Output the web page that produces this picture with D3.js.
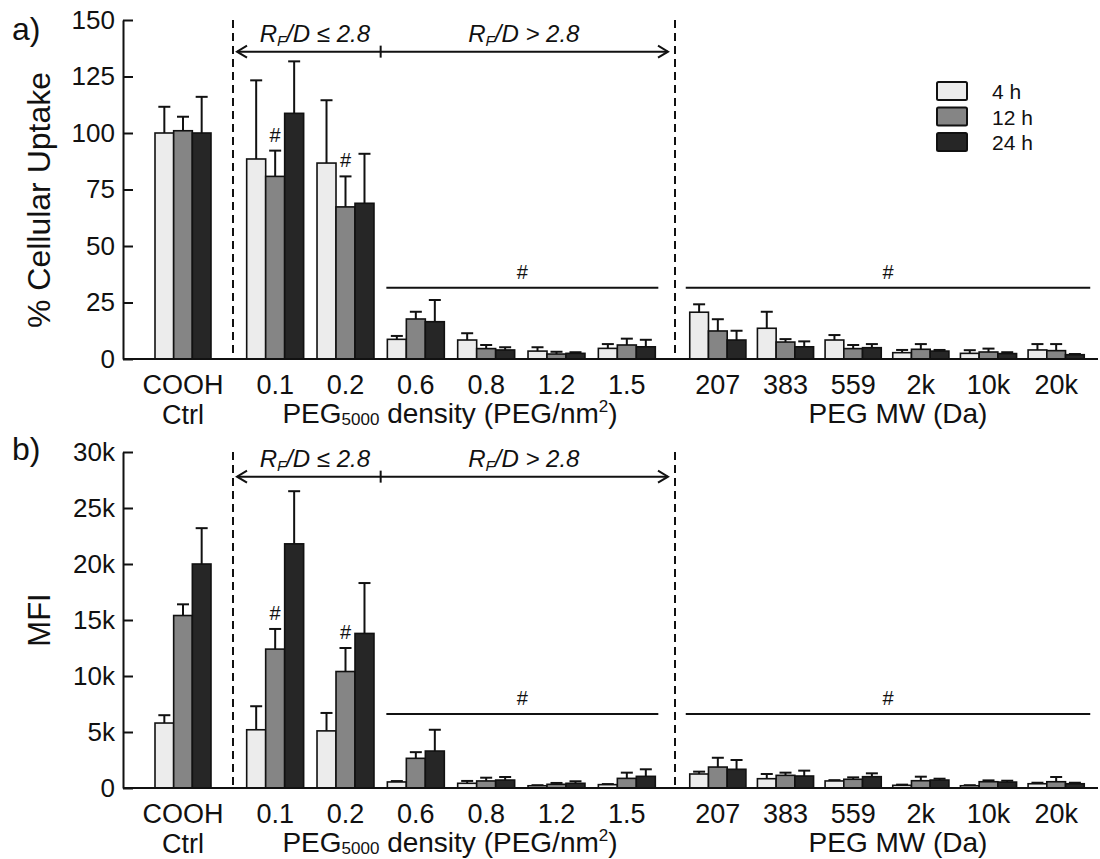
<!DOCTYPE html>
<html lang="en">
<head>
<meta charset="UTF-8">
<title>PEG uptake</title>
<script src="https://d3js.org/d3.v7.min.js"></script>
<style>
    body { margin: 0; background: #fff; }
    svg { display: block; font-family: "Liberation Sans", Arial, sans-serif; }
    .tick text { font-size: 26px; fill: #111; }
    .cat { font-size: 27px; fill: #111; text-anchor: middle; }
    .title { font-size: 28px; fill: #111; text-anchor: middle; }
    .note { font-size: 24px; font-style: italic; fill: #111; text-anchor: middle; }
    .hash { font-size: 20px; fill: #111; text-anchor: middle; }
</style>
</head>
<body>
<svg width="1100" height="859"></svg>
<script>
// categories
const ctrlCats = ["COOH"];
const densityCats = ["0.1", "0.2", "0.6", "0.8", "1.2", "1.5"];
const mwCats = ["207", "383", "559", "2k", "10k", "20k"];
const allCats = ctrlCats.concat(densityCats, mwCats);
const series = ["4 h", "12 h", "24 h"];
const colors = ["#ececec", "#858585", "#262626"];

// a) % cellular uptake (mean, SD)
const uptake4 = [100, 88.5, 86.7, 8.7, 8.4, 3.5, 4.7, 20.7, 13.6, 8.4, 2.8, 2.5, 4.0];
const uptake4Err = [11.6, 34.8, 27.8, 1.5, 3.0, 1.7, 1.9, 3.5, 7.3, 2.2, 1.2, 1.4, 2.6];
const uptake12 = [101, 80.8, 67.3, 17.7, 4.6, 2.2, 6.2, 12.4, 7.5, 4.6, 4.3, 3.1, 3.7];
const uptake12Err = [6.2, 11.4, 13.5, 3.2, 1.6, 1.0, 2.8, 5.2, 1.3, 1.6, 2.3, 1.5, 2.9];
const uptake24 = [100, 108.7, 68.9, 16.5, 4.0, 2.5, 5.4, 8.4, 5.4, 5.0, 3.5, 2.4, 1.9];
const uptake24Err = [16, 23.0, 21.9, 9.6, 1.2, 0.5, 3.1, 4.1, 2.4, 1.6, 0.5, 0.6, 0.3];

// b) MFI (mean, SD)
const mfi4 = [5800, 5200, 5100, 540, 420, 200, 300, 1250, 830, 630, 240, 200, 380];
const mfi4Err = [700, 2100, 1600, 80, 210, 50, 50, 210, 420, 70, 60, 50, 90];
const mfi12 = [15400, 12400, 10400, 2650, 630, 330, 860, 1870, 1130, 780, 650, 560, 560];
const mfi12Err = [1000, 1800, 2100, 550, 290, 120, 510, 830, 240, 170, 360, 120, 420];
const mfi24 = [20000, 21800, 13800, 3300, 710, 420, 1040, 1670, 1070, 1010, 710, 530, 380];
const mfi24Err = [3200, 4700, 4500, 1900, 270, 180, 630, 830, 480, 300, 120, 120, 90];

const uptakeTicks = [0, 25, 50, 75, 100, 125, 150];
const mfiTicks = [0, 5000, 10000, 15000, 20000, 25000, 30000];

const svg = d3.select("svg");

// x scales, one per section so the gaps can differ
const xCtrl = d3.scaleBand().domain(ctrlCats).range([148, 218]).paddingInner(0.2).paddingOuter(0.1);
const xDens = d3.scaleBand().domain(densityCats).range([240, 662]).paddingInner(0.19).paddingOuter(0.095);
const xMw = d3.scaleBand().domain(mwCats).range([684, 1090]).paddingInner(0.17).paddingOuter(0.085);
function xs(c) {
    if (ctrlCats.includes(c)) return xCtrl;
    if (densityCats.includes(c)) return xDens;
    return xMw;
}
const xLeft = 123, xRight = 1098;
const dash1 = 233, dash2 = 675;

function drawPanel(cfg) {
    const y = d3.scaleLinear().domain(cfg.domain).range(cfg.range);
    const g = svg.append("g");

    // bars + error bars
    const table = allCats.map((c, i) => ({
        cat: c,
        vals: cfg.means.map((m, s) => ({ s: s, v: m[i], e: cfg.errs[s][i] }))
    }));
    const groups = g.selectAll(".grp").data(table).enter().append("g");
    groups.each(function(d) {
        const band = xs(d.cat);
        const inner = d3.scaleBand().domain([0, 1, 2]).range([band(d.cat), band(d.cat) + band.bandwidth()]);
        const sel = d3.select(this);
        sel.selectAll("line.err").data(d.vals).enter().append("line")
            .attr("x1", v => inner(v.s) + inner.bandwidth() / 2)
            .attr("x2", v => inner(v.s) + inner.bandwidth() / 2)
            .attr("y1", v => y(v.v)).attr("y2", v => y(v.v + v.e))
            .attr("stroke", "#111").attr("stroke-width", 2);
        sel.selectAll("line.cap").data(d.vals).enter().append("line")
            .attr("x1", v => inner(v.s) + inner.bandwidth() / 2 - 6)
            .attr("x2", v => inner(v.s) + inner.bandwidth() / 2 + 6)
            .attr("y1", v => y(v.v + v.e)).attr("y2", v => y(v.v + v.e))
            .attr("stroke", "#111").attr("stroke-width", 2);
        sel.selectAll("rect").data(d.vals).enter().append("rect")
            .attr("x", v => inner(v.s))
            .attr("y", v => y(v.v))
            .attr("width", inner.bandwidth())
            .attr("height", v => y(0) - y(v.v))
            .attr("fill", v => colors[v.s])
            .attr("stroke", "#111").attr("stroke-width", 1.6);
    });

    // y axis, ticks pointing inward
    const ax = g.append("g").attr("transform", `translate(${xLeft},0)`)
        .call(d3.axisLeft(y).tickValues(cfg.ticks).tickFormat(cfg.fmt)
            .tickSize(-10).tickSizeOuter(0).tickPadding(8));
    ax.selectAll("path, line").attr("stroke", "#111").attr("stroke-width", 2);
    ax.selectAll("text").attr("font-family", null).attr("font-size", null);

    // x baseline
    g.append("line").attr("x1", xLeft).attr("x2", xRight)
        .attr("y1", y(0)).attr("y2", y(0))
        .attr("stroke", "#111").attr("stroke-width", 2);

    // dashed separators
    [dash1, dash2].forEach(dx => {
        g.append("line").attr("x1", dx).attr("x2", dx)
            .attr("y1", y(cfg.domain[1])).attr("y2", y(0))
            .attr("stroke", "#111").attr("stroke-width", 2)
            .attr("stroke-dasharray", "8,5");
    });

    // category labels
    g.selectAll(".cat").data(allCats).enter().append("text")
        .attr("class", "cat")
        .attr("x", c => xs(c)(c) + xs(c).bandwidth() / 2)
        .attr("y", y(0) + 35)
        .text(c => c);
    g.append("text").attr("class", "cat").attr("x", xCtrl("COOH") + xCtrl.bandwidth() / 2)
        .attr("y", y(0) + 65).text("Ctrl");
    const dt = g.append("text").attr("class", "title").attr("x", 450).attr("y", y(0) + 64);
    dt.append("tspan").text("PEG");
    dt.append("tspan").attr("font-size", "17px").attr("dy", 2).text("5000");
    dt.append("tspan").attr("dy", -2).text(" density (PEG/nm");
    dt.append("tspan").attr("font-size", "17px").attr("dy", -11).text("2");
    dt.append("tspan").attr("dy", 11).text(")");
    g.append("text").attr("class", "title").attr("x", 898).attr("y", y(0) + 64).text("PEG MW (Da)");

    // y title + panel letter
    g.append("text").attr("class", "title")
        .attr("transform", `translate(50,${cfg.titleY}) rotate(-90)`)
        .style("font-size", cfg.titleSize)
        .text(cfg.title);
    g.append("text").attr("x", 12).attr("y", cfg.letterY)
        .attr("font-size", "32px").attr("fill", "#111").text(cfg.letter);

    // R_F/D arrow
    const ay = y(cfg.arrowLevel);
    const mid = (xDens("0.2") + xDens.bandwidth() + xDens("0.6")) / 2;
    g.append("line").attr("x1", dash1 + 4).attr("x2", dash2 - 7)
        .attr("y1", ay).attr("y2", ay).attr("stroke", "#111").attr("stroke-width", 2);
    g.append("path").attr("d", `M${dash1 + 14},${ay - 6}L${dash1 + 4},${ay}L${dash1 + 14},${ay + 6}`)
        .attr("fill", "none").attr("stroke", "#111").attr("stroke-width", 2);
    g.append("path").attr("d", `M${dash2 - 17},${ay - 6}L${dash2 - 7},${ay}L${dash2 - 17},${ay + 6}`)
        .attr("fill", "none").attr("stroke", "#111").attr("stroke-width", 2);
    g.append("line").attr("x1", mid).attr("x2", mid).attr("y1", ay - 6).attr("y2", ay + 6)
        .attr("stroke", "#111").attr("stroke-width", 2);
    [["≤", (dash1 + mid) / 2 + 8], [">", (mid + dash2) / 2 - 4]].forEach(([sym, tx]) => {
        const t = g.append("text").attr("class", "note").attr("x", tx).attr("y", ay - 10);
        t.append("tspan").text("R");
        t.append("tspan").attr("font-size", "15px").attr("dy", 4).text("F");
        t.append("tspan").attr("dy", -4).text("/D " + sym + " 2.8");
    });

    // # over individual bars (12 h of 0.1 and 0.2)
    ["0.1", "0.2"].forEach(c => {
        const i = allCats.indexOf(c);
        const inner = d3.scaleBand().domain([0, 1, 2]).range([xDens(c), xDens(c) + xDens.bandwidth()]);
        g.append("text").attr("class", "hash")
            .attr("x", inner(1) + inner.bandwidth() / 2)
            .attr("y", y(cfg.means[1][i] + cfg.errs[1][i]) - 9)
            .text("#");
    });

    // # brackets over groups
    const by = y(cfg.bracketLevel);
    [[xDens("0.6") - 1, xDens("1.5") + xDens.bandwidth() + 3],
     [xMw("207") - 4, xMw("20k") + xMw.bandwidth() + 6]].forEach(([a, b]) => {
        g.append("line").attr("x1", a).attr("x2", b).attr("y1", by).attr("y2", by)
            .attr("stroke", "#111").attr("stroke-width", 2);
        g.append("text").attr("class", "hash").attr("x", (a + b) / 2).attr("y", by - 9).text("#");
    });
}

drawPanel({
    domain: [0, 150], range: [359, 20], ticks: uptakeTicks, fmt: d3.format("d"),
    means: [uptake4, uptake12, uptake24], errs: [uptake4Err, uptake12Err, uptake24Err],
    title: "% Cellular Uptake", titleY: 200, titleSize: "32px",
    letter: "a)", letterY: 40, arrowLevel: 136, bracketLevel: 31.5
});
drawPanel({
    domain: [0, 30000], range: [788, 452], ticks: mfiTicks,
    fmt: v => v === 0 ? "0" : (v / 1000) + "k",
    means: [mfi4, mfi12, mfi24], errs: [mfi4Err, mfi12Err, mfi24Err],
    title: "MFI", titleY: 620, titleSize: "31px",
    letter: "b)", letterY: 460, arrowLevel: 27800, bracketLevel: 6600
});

// legend
const legend = svg.append("g").attr("transform", "translate(937,82)");
series.forEach((s, i) => {
    legend.append("rect").attr("x", 0).attr("y", i * 25.5).attr("width", 30).attr("height", 18)
        .attr("rx", 1.5).attr("fill", colors[i]).attr("stroke", "#111").attr("stroke-width", 2);
    legend.append("text").attr("x", 55).attr("y", i * 25.5 + 17)
        .attr("font-size", "21px").attr("fill", "#111").text(s);
});
</script>
</body>
</html>
